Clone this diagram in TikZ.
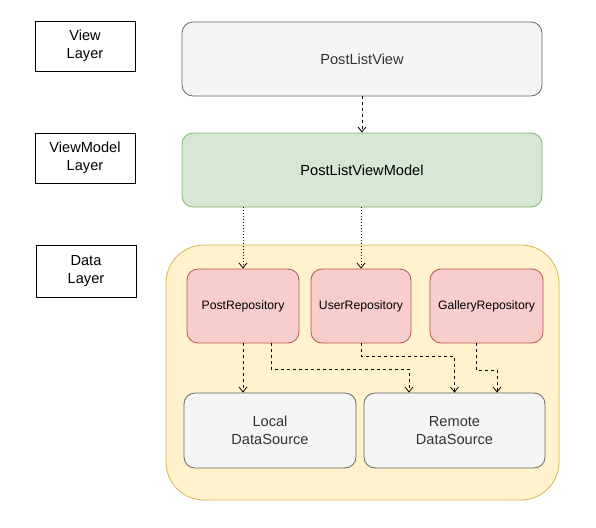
\documentclass[tikz,border=0pt]{standalone}
\usepackage{fontspec}
\setmainfont{Liberation Sans}
\usepackage{xcolor}
\usepackage{tikz}
\usetikzlibrary{arrows.meta}
\definecolor{grayfill}{HTML}{F5F5F5}
\definecolor{graydraw}{HTML}{666666}
\definecolor{graytext}{HTML}{333333}
\definecolor{greenfill}{HTML}{D5E8D4}
\definecolor{greendraw}{HTML}{82B366}
\definecolor{redfill}{HTML}{F8CECC}
\definecolor{reddraw}{HTML}{B85450}
\definecolor{yellowfill}{HTML}{FFF2CC}
\definecolor{yellowdraw}{HTML}{D6B656}
\tikzset{
  bigtext/.style={font=\fontsize{14.6}{18}\selectfont,align=center},
  layerbox/.style={draw=black,thick,minimum width=100pt,minimum height=50pt,bigtext},
  graybox/.style={draw=graydraw,fill=grayfill,text=graytext,thick,rounded corners=11pt,bigtext},
  greenbox/.style={draw=greendraw,fill=greenfill,thick,rounded corners=11pt,bigtext},
  redbox/.style={draw=reddraw,fill=redfill,thick,rounded corners=11pt,minimum height=74pt,font=\fontsize{12.2}{15}\selectfont},
  yellowbox/.style={draw=yellowdraw,fill=yellowfill,thick,rounded corners=38pt},
  dep/.style={thick,dash pattern=on 3pt off 3pt,-{Straight Barb[length=5pt,width=8pt]}},
  uses/.style={thick,dash pattern=on 1pt off 2pt,-{Straight Barb[length=5pt,width=8pt]}}
}
\begin{document}
\begin{tikzpicture}[x=1pt,y=-1pt]
\useasboundingbox(0,0)rectangle(596,527);

\node[layerbox](viewlayer)at(85,46){View\\Layer};
\node[layerbox](vmlayer)at(85,158){ViewModel\\Layer};
\node[layerbox,minimum height=52pt](datalayer)at(86,271){Data\\Layer};

\node[graybox,minimum width=360pt,minimum height=74pt](view)at(362,59){PostListView};
\node[greenbox,minimum width=360pt,minimum height=74pt](vm)at(362,170){PostListViewModel};

\node[yellowbox,minimum width=393pt,minimum height=255pt](data)at(362.5,372.5){};
\node[redbox,minimum width=112pt](postrepo)at(243,306){PostRepository};
\node[redbox,minimum width=100pt](userrepo)at(361,306){UserRepository};
\node[redbox,minimum width=113pt](galleryrepo)at(486.5,306){GalleryRepository};
\node[graybox,minimum width=172pt,minimum height=75pt](local)at(270,430.5){Local\\DataSource};
\node[graybox,minimum width=181pt,minimum height=75pt](remote)at(454.5,430.5){Remote\\DataSource};

\draw[dep](view)--(vm);
\draw[uses](vm.south-|postrepo)--(postrepo);
\draw[uses](vm.south-|userrepo)--(userrepo);

\draw[dep](postrepo)--(local.north-|postrepo);
\draw[dep]([xshift=28pt]postrepo.south)--++(0,26)-|([xshift=-45.5pt]remote.north);
\draw[dep](userrepo.south)--++(0,13)-|(remote.north);
\draw[dep]([xshift=-10.5pt]galleryrepo.south)--++(0,27)-|([xshift=42.5pt]remote.north);
\end{tikzpicture}
\end{document}
